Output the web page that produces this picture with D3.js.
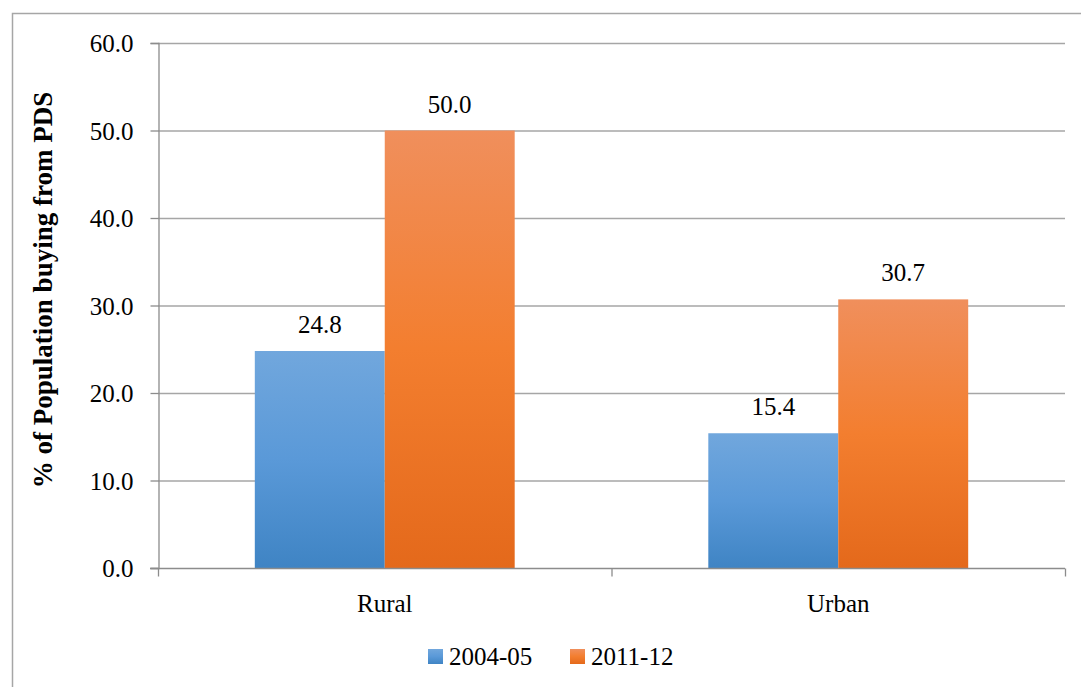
<!DOCTYPE html>
<html>
<head>
<meta charset="utf-8">
<script src="https://cdn.jsdelivr.net/npm/d3@7"></script>
<style>
  body { margin: 0; background: #fff; }
  text { font-family: "Liberation Serif", "DejaVu Serif", serif; fill: #000; }
</style>
</head>
<body>
<div class="chart"></div>
<script>
// data
const categories = ['Rural', 'Urban'];
const seriesNames = ['2004-05', '2011-12'];
const values2004 = [24.8, 15.4];
const values2011 = [50.0, 30.7];
const yTicks = [0, 10, 20, 30, 40, 50, 60];

const width = 1081, height = 687;
const margin = {top: 43, right: 16, bottom: 119, left: 158};
const fontSize = '25px';

const svg = d3.select('.chart').append('svg')
  .attr('width', width).attr('height', height);

// gradients
const defs = svg.append('defs');
const grads = [
  {id: 'gBlue', stops: ['#71a7dd', '#5a99d8', '#3f84c4']},
  {id: 'gOrange', stops: ['#f08f5c', '#f37e2f', '#e4691b']}
];
grads.forEach(g => {
  const lg = defs.append('linearGradient').attr('id', g.id)
    .attr('x1', 0).attr('y1', 0).attr('x2', 0).attr('y2', 1);
  g.stops.forEach((c, i) => lg.append('stop')
    .attr('offset', (i / (g.stops.length - 1)) * 100 + '%').attr('stop-color', c));
});

// outer border
svg.append('rect').attr('x', 12.5).attr('y', 13.5)
  .attr('width', 1200).attr('height', 800)
  .attr('fill', 'none').attr('stroke', '#a6a6a6').attr('stroke-width', 1.5);

const x0 = d3.scaleBand().domain(categories)
  .range([margin.left, width - margin.right]);
const x1 = d3.scaleBand().domain(seriesNames)
  .range([0, x0.bandwidth()]).paddingOuter(0.745).paddingInner(0);
const y = d3.scaleLinear().domain([0, 60])
  .range([height - margin.bottom, margin.top]);

// gridlines
svg.append('g').attr('class', 'grid')
  .selectAll('line').data(yTicks.filter(d => d > 0)).enter()
  .append('line')
  .attr('x1', margin.left).attr('x2', width - margin.right)
  .attr('y1', d => y(d) + 0.5).attr('y2', d => y(d) + 0.5)
  .attr('stroke', '#a6a6a6').attr('stroke-width', 1.3);

// bars
const table = categories.map((c, i) => ({cat: c, vals: [
  {s: seriesNames[0], v: values2004[i], fill: 'url(#gBlue)'},
  {s: seriesNames[1], v: values2011[i], fill: 'url(#gOrange)'}
]}));

const groups = svg.selectAll('.cat').data(table).enter()
  .append('g').attr('class', 'cat')
  .attr('transform', d => `translate(${x0(d.cat)},0)`);

groups.selectAll('rect').data(d => d.vals).enter()
  .append('rect')
  .attr('x', d => x1(d.s)).attr('width', x1.bandwidth())
  .attr('y', d => y(d.v)).attr('height', d => y(0) - y(d.v))
  .attr('fill', d => d.fill);

groups.selectAll('.lbl').data(d => d.vals).enter()
  .append('text').attr('class', 'lbl')
  .attr('x', d => x1(d.s) + x1.bandwidth() / 2)
  .attr('y', d => y(d.v) - 18)
  .attr('text-anchor', 'middle').style('font-size', fontSize)
  .text(d => d.v.toFixed(1));

// y axis
const yAxis = d3.axisLeft(y).tickValues(yTicks)
  .tickFormat(d3.format('.1f')).tickSize(8).tickPadding(17);
const yG = svg.append('g').attr('transform', `translate(${margin.left + 0.5},0)`)
  .call(yAxis);
yG.select('.domain').attr('stroke', '#8c8c8c').attr('stroke-width', 1.3);
yG.selectAll('.tick line').attr('stroke', '#8c8c8c').attr('stroke-width', 1.3);
yG.selectAll('.tick text').style('font-size', fontSize)
  .style('font-family', '"Liberation Serif", "DejaVu Serif", serif').attr('dy', '0.35em');

// x axis
const xBoundaries = [margin.left, margin.left + x0.step(), width - margin.right];
const xG = svg.append('g').attr('transform', `translate(0,${y(0) + 0.5})`);
xG.append('line').attr('x1', margin.left - 8).attr('x2', width - margin.right)
  .attr('stroke', '#8c8c8c').attr('stroke-width', 1.3);
xG.selectAll('.xt').data(xBoundaries).enter().append('line')
  .attr('x1', d => d + 0.5).attr('x2', d => d + 0.5).attr('y1', 0).attr('y2', 8)
  .attr('stroke', '#8c8c8c').attr('stroke-width', 1.3);
xG.selectAll('.xl').data(categories).enter().append('text')
  .attr('x', d => x0(d) + x0.bandwidth() / 2).attr('y', 43)
  .attr('text-anchor', 'middle').style('font-size', fontSize).text(d => d);

// y title
svg.append('text')
  .attr('transform', `translate(52,290) rotate(-90)`)
  .attr('text-anchor', 'middle').style('font-size', '27px').style('font-weight', 'bold')
  .text('% of Population buying from PDS');

// legend
const legendX = [428, 570];
const legend = svg.selectAll('.leg').data(seriesNames).enter()
  .append('g').attr('class', 'leg')
  .attr('transform', (d, i) => `translate(${legendX[i]},649)`);
legend.append('rect').attr('width', 15).attr('height', 15)
  .attr('fill', (d, i) => i === 0 ? 'url(#gBlue)' : 'url(#gOrange)');
legend.append('text').attr('x', 21).attr('y', 16)
  .style('font-size', fontSize).text(d => d);
</script>
</body>
</html>
